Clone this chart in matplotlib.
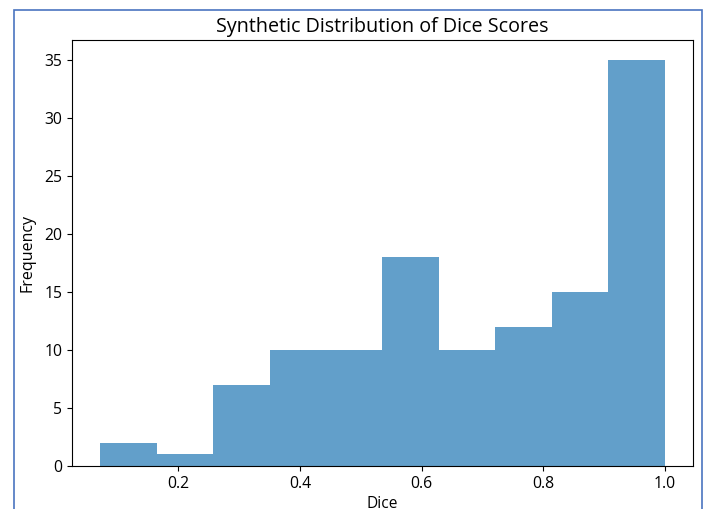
import matplotlib
matplotlib.use("Agg")
import matplotlib.pyplot as plt
import numpy as np
from matplotlib.patches import Rectangle

plt.rcParams['font.family'] = ['Open Sans', 'DejaVu Sans']

counts = [2, 1, 7, 10, 10, 18, 10, 12, 15, 35]
dice_min = 0.0715
dice_max = 1.0
title = "Synthetic Distribution of Dice Scores"
xlabel = "Dice"
ylabel = "Frequency"

edges = np.linspace(dice_min, dice_max, len(counts) + 1)
centers = (edges[:-1] + edges[1:]) / 2

fig = plt.figure(figsize=(7.07, 5.09), dpi=100)
ax = fig.add_axes([72/707, 43/509, (693-72)/707, (466-40)/509])
ax.hist(centers, bins=edges, weights=counts, color='#1f77b4', alpha=0.7)
ax.set_title(title, fontsize=14.2, pad=6)
ax.set_xlabel(xlabel, fontsize=11.2, labelpad=3)
ax.set_ylabel(ylabel, fontsize=11.5, labelpad=6)
ax.tick_params(labelsize=11.3)

fig.patches.append(Rectangle((14/707, -0.1), (702-14)/707, 1.1 - 10/509,
                             transform=fig.transFigure, fill=False,
                             edgecolor='#4a74c0', linewidth=1.2))
fig.savefig("out.png", dpi=100)
